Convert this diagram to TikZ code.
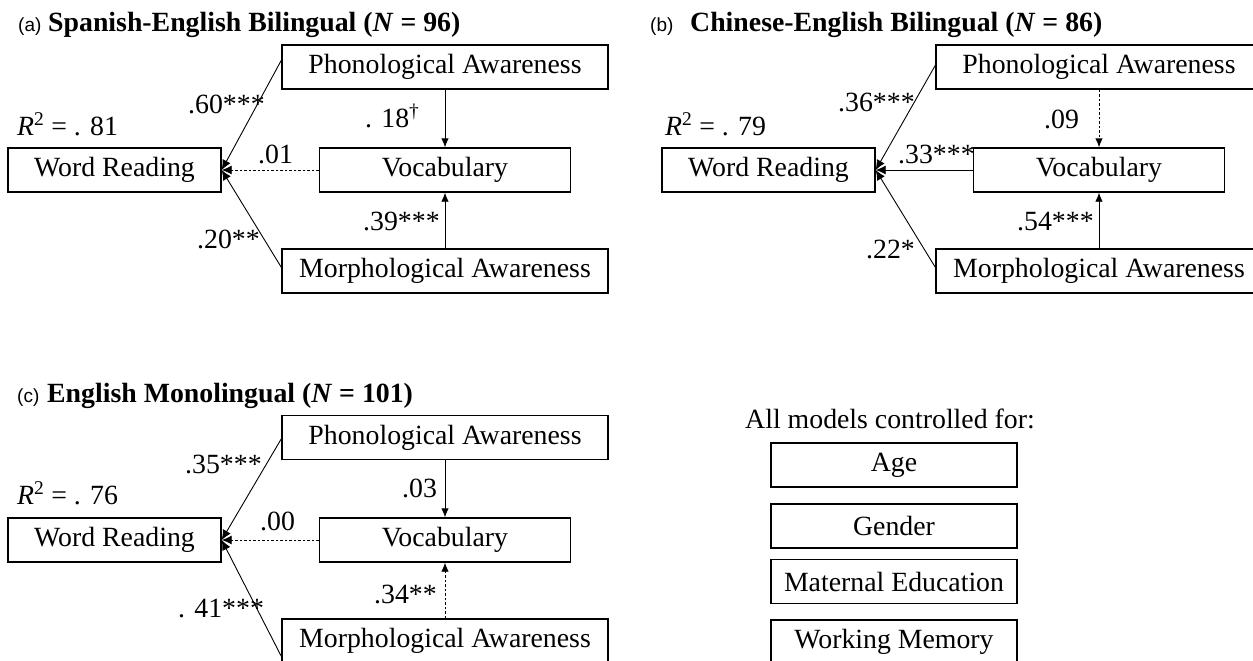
\documentclass[tikz,border=0pt]{standalone}
\usepackage{fontspec}
\setmainfont{Liberation Serif}
\newfontfamily\tagfont{Liberation Sans}
\usetikzlibrary{arrows.meta}
\tikzset{
  txt/.style={font=\fontsize{27.8}{30}\selectfont},
  box/.style={txt, draw, line width=1.4pt, inner sep=0pt, minimum height=44pt},
  conn/.style={line width=0.9pt, -{Latex[length=10pt,width=9pt]}},
  dconn/.style={conn, dash pattern=on 2.5pt off 2pt},
  vconn/.style={line width=0.9pt, -{Latex[length=9pt,width=7.5pt]}},
  dvconn/.style={vconn, dash pattern=on 2.5pt off 2pt},
  lbl/.style={txt, anchor=base west, inner sep=0pt},
  ttl/.style={anchor=base west, inner sep=0pt, font=\fontsize{27.8}{30}\selectfont\bfseries},
  tag/.style={anchor=base west, inner sep=0pt, font=\fontsize{19}{20}\selectfont\tagfont},
}
\begin{document}
\begin{tikzpicture}[x=1pt,y=-1pt]
\useasboundingbox (0,0) rectangle (1253,661);

% ---------- Panel (a) ----------
\node[tag] (tagA) at (18,32) {(a)};
\node[ttl] (ttlA) at (48,32) {Spanish-English Bilingual (\textit{N} = 96)};
\node[lbl] (r2A) at (17,135) {\textit{R}\textsuperscript{2} = . 81};
\node[box, minimum width=213pt] (wrA) at (114.5,170) {Word Reading};
\node[box, minimum width=326pt] (paA) at (445,67) {Phonological Awareness};
\node[box, minimum width=251pt] (voA) at (445,170) {Vocabulary};
\node[box, minimum width=326pt] (maA) at (445,271) {Morphological Awareness};
\draw[conn] ([yshift=-16pt]paA.north west) -- (wrA.east);
\draw[conn] ([yshift=-19pt]maA.north west) -- (wrA.east);
\draw[dconn] (voA.west) -- (wrA.east);
\draw[vconn] (paA.south) -- (voA.north);
\draw[vconn] (maA.north) -- (voA.south);
\node[lbl] (lA1) at (188,113) {.60***};
\node[lbl] (lA2) at (365,127) {. 18\textsuperscript{\textdagger}};
\node[lbl] (lA3) at (258,163) {.01};
\node[lbl] (lA4) at (363,230) {.39***};
\node[lbl] (lA5) at (197,248) {.20**};

% ---------- Panel (b) ----------
\node[tag] (tagB) at (650,32) {(b)};
\node[ttl] (ttlB) at (690,32) {Chinese-English Bilingual (\textit{N} = 86)};
\node[lbl] (r2B) at (665,135) {\textit{R}\textsuperscript{2} = . 79};
\node[box, minimum width=213pt] (wrB) at (768.5,170) {Word Reading};
\node[box, minimum width=326pt] (paB) at (1099,67) {Phonological Awareness};
\node[box, minimum width=251pt] (voB) at (1099,170) {Vocabulary};
\node[box, minimum width=326pt] (maB) at (1099,271) {Morphological Awareness};
\draw[conn] ([yshift=-21pt]paB.north west) -- (wrB.east);
\draw[conn] ([yshift=-19pt]maB.north west) -- (wrB.east);
\draw[conn] (voB.west) -- (wrB.east);
\draw[dvconn] (paB.south) -- (voB.north);
\draw[vconn] (maB.north) -- (voB.south);
\node[lbl] (lB1) at (838,111) {.36***};
\node[lbl] (lB2) at (1044,128) {.09};
\node[lbl] (lB3) at (898,163) {.33***};
\node[lbl] (lB4) at (1017,230) {.54***};
\node[lbl] (lB5) at (866,258) {.22*};

% ---------- Panel (c) ----------
\node[tag] (tagC) at (17,402) {(c)};
\node[ttl] (ttlC) at (47,402) {English Monolingual (\textit{N} = 101)};
\node[lbl] (r2C) at (17,504) {\textit{R}\textsuperscript{2} = . 76};
\node[box, minimum width=213pt] (wrC) at (114.5,540) {Word Reading};
\node[box, minimum width=326pt] (paC) at (445,437.5) {Phonological Awareness};
\node[box, minimum width=251pt] (voC) at (445,540) {Vocabulary};
\node[box, minimum width=326pt] (maC) at (445,641) {Morphological Awareness};
\draw[conn] ([yshift=-24pt]paC.north west) -- (wrC.east);
\draw[conn] ([yshift=-38pt]maC.north west) -- (wrC.east);
\draw[dconn] (voC.west) -- (wrC.east);
\draw[vconn] (paC.south) -- (voC.north);
\draw[dvconn] (maC.north) -- (voC.south);
\node[lbl] (lC1) at (185,473) {.35***};
\node[lbl] (lC2) at (402,497) {.03};
\node[lbl] (lC3) at (260,530) {.00};
\node[lbl] (lC4) at (374,603) {.34**};
\node[lbl] (lC5) at (178,617) {. 41***};

% ---------- Controls ----------
\node[txt, anchor=base, inner sep=0pt] (ctrl) at (890,428) {All models controlled for:};
\node[box, minimum width=246pt] (age) at (894,465) {Age};
\node[box, minimum width=246pt] (gen) at (894,526) {Gender};
\node[box, minimum width=246pt] (med) at (894,581.5) {Maternal Education};
\node[box, minimum width=246pt] (wm) at (894,642) {Working Memory};
\end{tikzpicture}
\end{document}
